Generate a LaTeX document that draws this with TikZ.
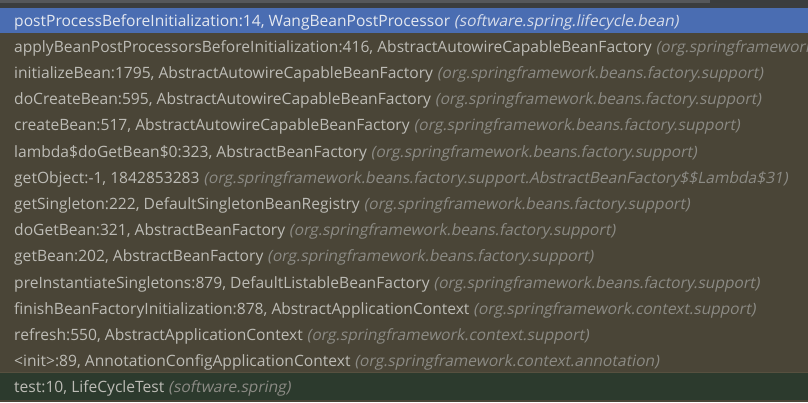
\documentclass[tikz,border=0pt]{standalone}
\usepackage{fontspec}
\setmainfont{Open Sans}
\newfontfamily\slantfont{Open Sans}[FakeSlant=0.2]
\newcommand{\pkgtxt}[1]{{\slantfont #1}}
\begin{document}
\begin{tikzpicture}[x=1pt,y=-1pt,
  row/.style={anchor=base west,inner sep=0pt,text=txt,font=\fontsize{15.6}{17}\selectfont}]
\definecolor{bg}{HTML}{4A4537}
\definecolor{topbar}{HTML}{3B3D3E}
\definecolor{topline}{HTML}{55575A}
\definecolor{selblue}{HTML}{4A6DB2}
\definecolor{curgreen}{HTML}{2C3A2D}
\definecolor{sep}{HTML}{57503F}
\definecolor{txt}{HTML}{BDBCB6}
\definecolor{pk}{HTML}{8C8B85}
\definecolor{seltxt}{HTML}{E4E8F0}
\definecolor{selpk}{HTML}{D6DCEA}
\useasboundingbox (0,0) rectangle (808,402);
\clip (0,0) rectangle (808,402);
\fill[bg] (0,0) rectangle (808,402);
\fill[topbar] (0,0) rectangle (808,8);
\fill[topline] (0,0) rectangle (710,2.5);
\fill[selblue] (0,8) rectangle (808,33);
\fill[sep] (0,371.5) rectangle (808,373);
\fill[curgreen] (0,373) rectangle (808,400);
\node[row,text=seltxt] (r1) at (14,26.0) {postProcessBeforeInitialization:14, WangBeanPostProcessor \textcolor{selpk}{\pkgtxt{(software.spring.lifecycle.bean)}}};
\node[row] (r2) at (14,52.2) {applyBeanPostProcessorsBeforeInitialization:416, AbstractAutowireCapableBeanFactory \textcolor{pk}{\pkgtxt{(org.springframework.beans.factory.support)}}};
\node[row] (r3) at (14,78.4) {initializeBean:1795, AbstractAutowireCapableBeanFactory \textcolor{pk}{\pkgtxt{(org.springframework.beans.factory.support)}}};
\node[row] (r4) at (14,104.6) {doCreateBean:595, AbstractAutowireCapableBeanFactory \textcolor{pk}{\pkgtxt{(org.springframework.beans.factory.support)}}};
\node[row] (r5) at (14,130.8) {createBean:517, AbstractAutowireCapableBeanFactory \textcolor{pk}{\pkgtxt{(org.springframework.beans.factory.support)}}};
\node[row] (r6) at (14,157.0) {lambda\$doGetBean\$0:323, AbstractBeanFactory \textcolor{pk}{\pkgtxt{(org.springframework.beans.factory.support)}}};
\node[row] (r7) at (14,183.2) {getObject:-1, 1842853283 \textcolor{pk}{\pkgtxt{(org.springframework.beans.factory.support.AbstractBeanFactory\$\$Lambda\$31)}}};
\node[row] (r8) at (14,209.4) {getSingleton:222, DefaultSingletonBeanRegistry \textcolor{pk}{\pkgtxt{(org.springframework.beans.factory.support)}}};
\node[row] (r9) at (14,235.6) {doGetBean:321, AbstractBeanFactory \textcolor{pk}{\pkgtxt{(org.springframework.beans.factory.support)}}};
\node[row] (r10) at (14,261.8) {getBean:202, AbstractBeanFactory \textcolor{pk}{\pkgtxt{(org.springframework.beans.factory.support)}}};
\node[row] (r11) at (14,288.0) {preInstantiateSingletons:879, DefaultListableBeanFactory \textcolor{pk}{\pkgtxt{(org.springframework.beans.factory.support)}}};
\node[row] (r12) at (14,314.2) {finishBeanFactoryInitialization:878, AbstractApplicationContext \textcolor{pk}{\pkgtxt{(org.springframework.context.support)}}};
\node[row] (r13) at (14,340.4) {refresh:550, AbstractApplicationContext \textcolor{pk}{\pkgtxt{(org.springframework.context.support)}}};
\node[row] (r14) at (14,366.6) {<init>:89, AnnotationConfigApplicationContext \textcolor{pk}{\pkgtxt{(org.springframework.context.annotation)}}};
\node[row] (r15) at (14,392.8) {test:10, LifeCycleTest \textcolor{pk}{\pkgtxt{(software.spring)}}};
\end{tikzpicture}
\end{document}
